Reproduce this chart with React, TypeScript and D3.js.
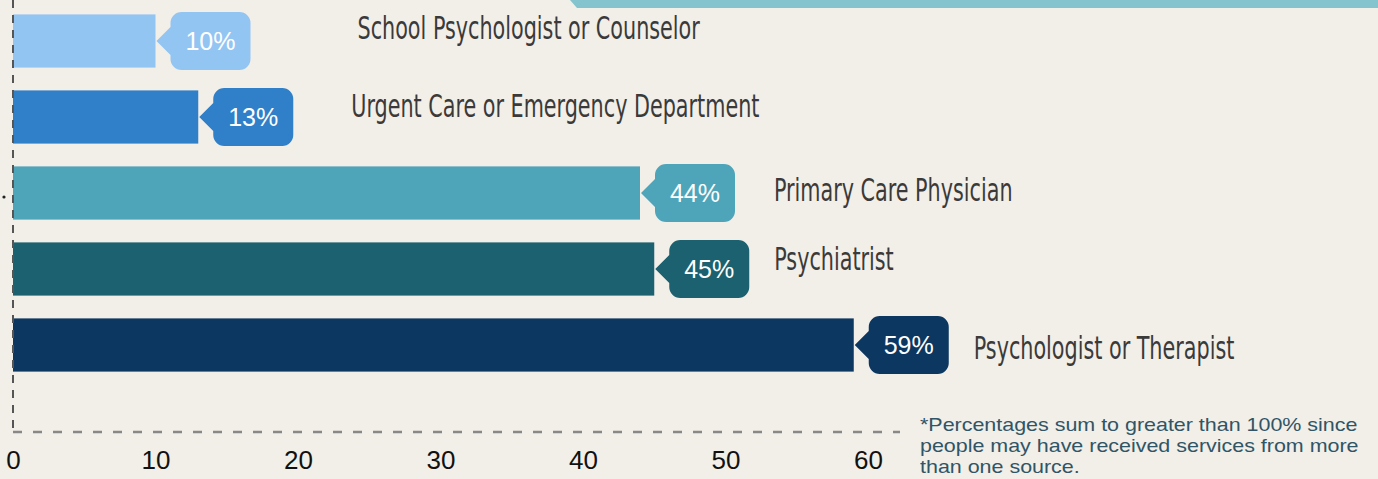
import React, { useEffect, useRef } from "react";
import * as d3 from "d3";

const categories = [
  "School Psychologist or Counselor",
  "Urgent Care or Emergency Department",
  "Primary Care Physician",
  "Psychiatrist",
  "Psychologist or Therapist",
];
const values = [10, 13, 44, 45, 59];
const colors = ["#93c5f3", "#2f80c8", "#4ea5ba", "#1b616f", "#0b3760"];
const xTicks = [0, 10, 20, 30, 40, 50, 60];
const footnote = [
  "*Percentages sum to greater than 100% since",
  "people may have received services from more",
  "than one source.",
];
// the names were placed by hand in the original, so nudge each one
const labelNudge = [
  [108, -2],
  [59, 0],
  [40, 8],
  [26, 1],
  [26, 14],
];

const W = 1378;
const H = 479;

const App = () => {
  const svgRef = useRef(null);

  useEffect(() => {
    document.body.style.margin = "0";

    const x = d3.scaleLinear().domain([0, 60]).range([13, 868]);
    const y = d3
      .scaleBand()
      .domain(categories)
      .range([3, 383])
      .paddingInner(0.3)
      .paddingOuter(0.15);

    const svg = d3.select(svgRef.current);
    svg.selectAll("*").remove();

    svg.append("rect").attr("width", W).attr("height", H).attr("fill", "#f2eee8");

    // banner edge peeking in from above
    svg
      .append("path")
      .attr("d", "M570,0H1378V8H577Z")
      .attr("fill", "#84c4ce");

    svg.append("circle").attr("cx", 4).attr("cy", 197).attr("r", 1.6).attr("fill", "#222");

    const rows = categories.map((c, i) => ({ name: c, value: values[i], color: colors[i], i }));

    svg
      .append("g")
      .selectAll("rect")
      .data(rows)
      .join("rect")
      .attr("x", x(0))
      .attr("y", (d) => y(d.name))
      .attr("width", (d) => x(d.value) - x(0))
      .attr("height", y.bandwidth())
      .attr("fill", (d) => d.color);

    // axis lines
    svg
      .append("line")
      .attr("x1", x(0))
      .attr("x2", x(0))
      .attr("y1", 0)
      .attr("y2", 432)
      .attr("stroke", "#555")
      .attr("stroke-width", 2)
      .attr("stroke-dasharray", "8,7");
    svg
      .append("line")
      .attr("x1", x(0))
      .attr("x2", 900)
      .attr("y1", 432)
      .attr("y2", 432)
      .attr("stroke", "#888")
      .attr("stroke-width", 2.5)
      .attr("stroke-dasharray", "9,11");

    // callouts
    const bubble = (d) => {
      const tip = x(d.value) + 1;
      const bx = x(d.value) + 15;
      const bw = 80;
      const cy = y(d.name) + y.bandwidth() / 2;
      const top = cy - 29;
      const bot = cy + 29;
      const r = 11;
      const ah = 14;
      const p = d3.path();
      p.moveTo(bx + r, top);
      p.lineTo(bx + bw - r, top);
      p.arcTo(bx + bw, top, bx + bw, top + r, r);
      p.lineTo(bx + bw, bot - r);
      p.arcTo(bx + bw, bot, bx + bw - r, bot, r);
      p.lineTo(bx + r, bot);
      p.arcTo(bx, bot, bx, bot - r, r);
      p.lineTo(bx, cy + ah);
      p.lineTo(tip, cy);
      p.lineTo(bx, cy - ah);
      p.lineTo(bx, top + r);
      p.arcTo(bx, top, bx + r, top, r);
      p.closePath();
      return p.toString();
    };

    const callouts = svg.append("g").selectAll("g").data(rows).join("g");
    callouts.append("path").attr("d", bubble).attr("fill", (d) => d.color);
    callouts
      .append("text")
      .attr("x", (d) => x(d.value) + 55)
      .attr("y", (d) => y(d.name) + y.bandwidth() / 2)
      .attr("dy", "0.36em")
      .attr("text-anchor", "middle")
      .attr("font-family", "'Liberation Sans', Arial, sans-serif")
      .attr("font-size", 25)
      .attr("fill", "#fff")
      .text((d) => `${d.value}%`);

    // category names
    svg
      .append("g")
      .selectAll("text")
      .data(rows)
      .join("text")
      .attr(
        "transform",
        (d) =>
          `translate(${x(d.value) + 94 + labelNudge[d.i][0]},${
            y(d.name) + y.bandwidth() / 2 + labelNudge[d.i][1]
          }) scale(0.72,1)`
      )
      .attr("font-family", "'Liberation Sans Narrow', 'DejaVu Sans Condensed', sans-serif")
      .attr("font-size", 32)
      .attr("fill", "#3a3a3a")
      .text((d) => d.name);

    // x ticks
    const axis = svg
      .append("g")
      .attr("transform", "translate(0,469)")
      .call(d3.axisBottom(x).tickValues(xTicks).tickSize(0));
    axis.select(".domain").remove();
    axis
      .selectAll("text")
      .attr("y", 0)
      .attr("dy", 0)
      .attr("font-family", "'Liberation Sans', Arial, sans-serif")
      .attr("font-size", 26)
      .attr("fill", "#111");

    svg
      .append("g")
      .attr("transform", "translate(920,0) scale(1.16,1)")
      .selectAll("text")
      .data(footnote)
      .join("text")
      .attr("x", 0)
      .attr("y", (d, i) => 431 + i * 21)
      .attr("font-family", "'Liberation Sans', Arial, sans-serif")
      .attr("font-size", 18.5)
      .attr("fill", "#2f5566")
      .text((d) => d);
  }, []);

  return (
    <div>
      <svg
        ref={svgRef}
        width={W}
        height={H}
        style={{ display: "block", position: "absolute", left: 0, top: 0 }}
      />
    </div>
  );
};

export default App;
